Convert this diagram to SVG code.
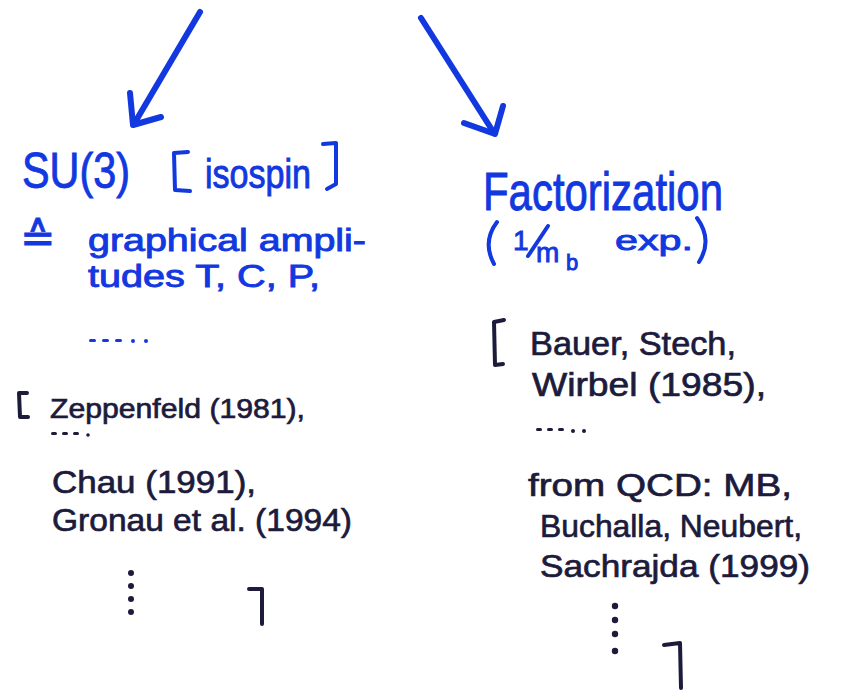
<svg xmlns="http://www.w3.org/2000/svg" width="842" height="694" viewBox="0 0 842 694">
<style>
.blue{fill:#1238e0;stroke:#1238e0;stroke-width:0.9;font-family:"Liberation Sans","DejaVu Sans",sans-serif}
.ink{fill:#1c1b3c;stroke:#1c1b3c;stroke-width:0.7;font-family:"Liberation Sans","DejaVu Sans",sans-serif}
.arrow{stroke:#1238e0;stroke-width:6;stroke-linecap:round;stroke-linejoin:round;fill:none}
.br{stroke-width:4;fill:none;stroke-linecap:round;stroke-linejoin:round}
.bdot{fill:#1238e0}
.dot{fill:#1c1b3c}
</style>
<rect width="842" height="694" fill="#ffffff"/>
<g id="connectors">
<path class="arrow" d="M200 12 L134 124"/>
<path class="arrow" d="M130 93 L133 125 L161 117"/>
<path class="arrow" d="M421 18 L494 133"/>
<path class="arrow" d="M503 106 L495 134 L464 123"/>
</g>
<g id="su3">
<text class="blue" x="22" y="188" font-size="50" textLength="108" lengthAdjust="spacingAndGlyphs">SU(3)</text>
<path class="br" stroke="#1238e0" d="M188 152 L174 153 L175 190 L190 191"/>
<text class="blue" x="205" y="188" font-size="40" textLength="106" lengthAdjust="spacingAndGlyphs">isospin</text>
<path class="br" stroke="#1238e0" d="M323 144 L336 143 L336 184 L327 189"/>
<text class="blue" x="20" y="252" font-size="42">≙</text>
<text class="blue" x="88" y="251" font-size="31" textLength="278" lengthAdjust="spacingAndGlyphs">graphical ampli-</text>
<text class="blue" x="88" y="287" font-size="31" textLength="232" lengthAdjust="spacingAndGlyphs">tudes  T, C, P,</text>
<g class="bdot">
<rect x="89" y="339" width="7" height="3" rx="1.5"/>
<rect x="102" y="339" width="7" height="3" rx="1.5"/>
<rect x="115" y="339" width="7" height="3" rx="1.5"/>
<circle cx="133" cy="341" r="2"/>
<circle cx="146" cy="341" r="2"/>
</g>
</g>
<g id="su3-refs">
<path class="br" stroke="#1c1b3c" d="M27 393 L19 393 L20 417 L28 417"/>
<text class="ink" x="50" y="418" font-size="28" textLength="255" lengthAdjust="spacingAndGlyphs">Zeppenfeld (1981),</text>
<g class="dot">
<rect x="51" y="432" width="6" height="3" rx="1.5"/>
<rect x="62" y="432" width="6" height="3" rx="1.5"/>
<rect x="73" y="432" width="6" height="3" rx="1.5"/>
<circle cx="88" cy="435" r="1.8"/>
</g>
<text class="ink" x="52" y="493" font-size="32" textLength="204" lengthAdjust="spacingAndGlyphs">Chau (1991),</text>
<text class="ink" x="52" y="531" font-size="32" textLength="300" lengthAdjust="spacingAndGlyphs">Gronau et al. (1994)</text>
<circle class="dot" cx="131" cy="573" r="3"/>
<circle class="dot" cx="131" cy="586" r="3"/>
<circle class="dot" cx="131" cy="599" r="3"/>
<circle class="dot" cx="131" cy="612" r="3"/>
<path class="br" stroke="#1c1b3c" d="M249 589 L262 589 L262 624"/>
</g>
<g id="factorization">
<text class="blue" x="483" y="210" font-size="54" textLength="240" lengthAdjust="spacingAndGlyphs">Factorization</text>
<path class="br" stroke="#1238e0" d="M497 222 Q482 242 494 264"/>
<text class="blue" x="513" y="250" font-size="28">1</text>
<path class="br" stroke="#1238e0" d="M548 226 L528 256"/>
<text class="blue" x="536" y="262" font-size="28">m</text>
<text class="blue" x="566" y="270" font-size="22">b</text>
<text class="blue" x="615" y="250" font-size="28" textLength="78" lengthAdjust="spacingAndGlyphs">exp.</text>
<path class="br" stroke="#1238e0" d="M697 218 Q713 240 699 262"/>
</g>
<g id="factorization-refs">
<path class="br" stroke="#1c1b3c" d="M504 320 L494 322 L495 365 L503 364"/>
<text class="ink" x="530" y="355" font-size="33" textLength="206" lengthAdjust="spacingAndGlyphs">Bauer, Stech,</text>
<text class="ink" x="532" y="396" font-size="33" textLength="234" lengthAdjust="spacingAndGlyphs">Wirbel (1985),</text>
<g class="dot">
<rect x="536" y="428" width="6" height="3" rx="1.5"/>
<rect x="547" y="428" width="6" height="3" rx="1.5"/>
<rect x="558" y="428" width="6" height="3" rx="1.5"/>
<circle cx="573" cy="431" r="2"/>
<circle cx="584" cy="431" r="2"/>
</g>
<text class="ink" x="528" y="496" font-size="32" textLength="264" lengthAdjust="spacingAndGlyphs">from QCD:  MB,</text>
<text class="ink" x="540" y="537" font-size="32" textLength="262" lengthAdjust="spacingAndGlyphs">Buchalla, Neubert,</text>
<text class="ink" x="540" y="577" font-size="32" textLength="270" lengthAdjust="spacingAndGlyphs">Sachrajda (1999)</text>
<circle class="dot" cx="615" cy="606" r="3.2"/>
<circle class="dot" cx="615" cy="620" r="3.2"/>
<circle class="dot" cx="615" cy="634" r="3.2"/>
<circle class="dot" cx="615" cy="651" r="3.2"/>
<path class="br" stroke="#1c1b3c" d="M664 645 L680 643 L681 688"/>
</g>
</svg>
